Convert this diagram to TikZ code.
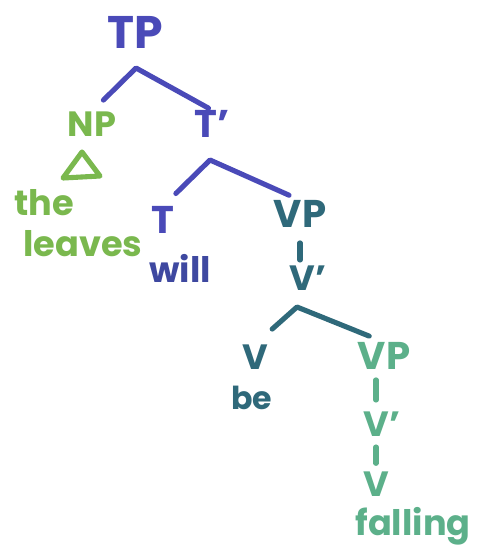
\documentclass[tikz,border=0pt]{standalone}
\usepackage{fontspec}
\setmainfont{Poppins}
\definecolor{tpblue}{RGB}{74,74,184}
\definecolor{willblue}{RGB}{62,72,160}
\definecolor{vpteal}{RGB}{47,105,122}
\definecolor{lowgreen}{RGB}{92,176,138}
\definecolor{npgreen}{RGB}{122,184,78}
\tikzset{
  lbl/.style={inner sep=0pt, font=\bfseries\fontsize{#1}{#1}\selectfont},
  br/.style={line width=2.9pt, line cap=round, line join=round},
}
\begin{document}
\begin{tikzpicture}[x=0.02cm, y=-0.02cm]
  \useasboundingbox (0,0) rectangle (489,559);
  % labels
  \node[lbl=26, tpblue] (TP) at (135,32) {TP};
  \node[lbl=20, npgreen] (NP) at (92,124) {NP};
  \node[lbl=22, tpblue] (Tbar) at (212,124) {T'};
  \node[lbl=20, npgreen] (the) at (44,203) {the};
  \node[lbl=20, npgreen] (leaves) at (83,244) {leaves};
  \node[lbl=22, tpblue] (T) at (163,220) {T};
  \node[lbl=20, willblue] (will) at (180,268) {will};
  \node[lbl=22, vpteal] (VP) at (300,214) {VP};
  \node[lbl=20, vpteal] (Vbar) at (308,278) {V'};
  \node[lbl=20, vpteal] (V) at (255,357) {V};
  \node[lbl=18, vpteal] (be) at (252,398) {be};
  \node[lbl=22, lowgreen] (VPb) at (384,356) {VP};
  \node[lbl=20, lowgreen] (Vbarb) at (382,424) {V'};
  \node[lbl=20, lowgreen] (Vb) at (376,484) {V};
  \node[lbl=20, lowgreen] (falling) at (413,526) {falling};
  % branches
  \coordinate (tpTop) at (136,68);
  \coordinate (tbTop) at (210,160);
  \coordinate (vbTop) at (297,307);
  \draw[br, tpblue, shorten <=0.32cm, shorten >=0.08cm] (NP.north) -- (tpTop) -- (Tbar.north);
  \draw[br, tpblue, shorten <=0.36cm, shorten >=0.24cm] (T.north) -- (tbTop) -- (VP.north);
  \draw[br, vpteal, shorten <=0.46cm, shorten >=0.32cm] (V.north) -- (vbTop) -- (VPb.north);
  \draw[br, vpteal, shorten <=0.3cm, shorten >=0.36cm] (VP) -- (VP |- Vbar);
  \draw[br, lowgreen, shorten <=0.2cm, shorten >=0.48cm] (Vb |- VPb.south) -- (Vb |- Vbarb);
  \draw[br, lowgreen, shorten <=0.46cm, shorten >=0.16cm] (Vb |- Vbarb) -- (Vb.north);
  % triangle
  \draw[br, npgreen] (82,152) -- (63,178) -- (100,176) -- cycle;
\end{tikzpicture}
\end{document}
